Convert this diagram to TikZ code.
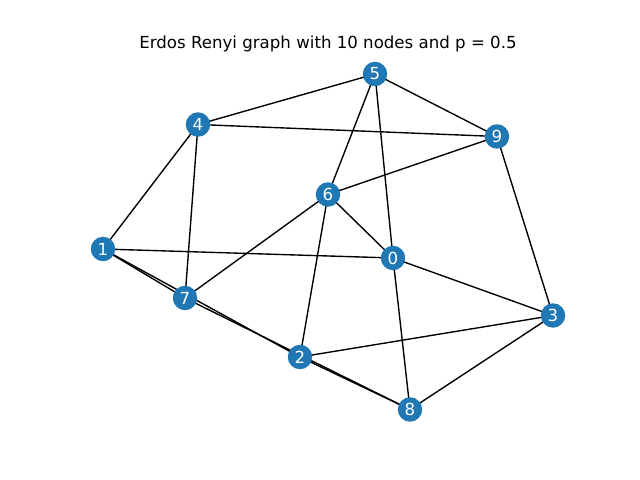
\documentclass[tikz,border=0pt]{standalone}
\usepackage{fontspec}
\setmainfont{DejaVu Sans}
\definecolor{nodeblue}{HTML}{1F77B4}
\begin{document}
\begin{tikzpicture}[x=0.01in,y=-0.01in,
  vtx/.style={circle,fill=nodeblue,draw=none,minimum size=24.5*0.72pt,inner sep=0pt,text=white,font=\fontsize{12}{14}\selectfont},
  edge/.style={black,line width=1pt}]
\useasboundingbox (0,0) rectangle (640,480);
\node[font=\fontsize{12}{14}\selectfont] (title) at (328,44) {Erdos Renyi graph with 10 nodes and p = 0.5};
\coordinate (p5) at (375,74);
\coordinate (p4) at (198,124.5);
\coordinate (p9) at (497,136.5);
\coordinate (p6) at (328,194.5);
\coordinate (p1) at (103,249);
\coordinate (p0) at (393,258);
\coordinate (p7) at (185,298);
\coordinate (p3) at (553,315.5);
\coordinate (p2) at (300,357);
\coordinate (p8) at (410,409.5);
\foreach \a/\b in {5/4,5/9,5/6,5/0,4/9,4/1,4/7,9/6,9/3,6/0,6/7,6/2,1/0,1/7,1/2,7/8,2/8,0/3,0/8,3/2,3/8}
  \draw[edge] (p\a) -- (p\b);
\foreach \i in {0,...,9}
  \node[vtx] (n\i) at (p\i) {\i};
\end{tikzpicture}
\end{document}
